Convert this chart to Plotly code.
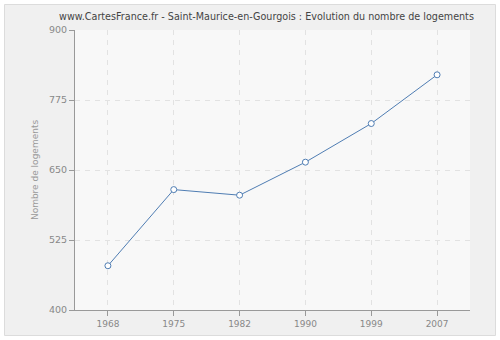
import plotly.graph_objects as go

years = ["1968", "1975", "1982", "1990", "1999", "2007"]
logements = [479, 615, 605, 664, 733, 820]
y_ticks = [400, 525, 650, 775, 900]

W, H = 500, 340
L, R, T, B = 75, 30, 30, 30
pw, ph = W - L - R, H - T - B

def px_x(x):
    return (x - L) / pw

def px_y(y):
    return (H - B - y) / ph

fig = go.Figure()
fig.add_trace(go.Scatter(
    x=years, y=logements, mode="lines+markers",
    line=dict(color="#4f7db3", width=1),
    marker=dict(symbol="circle", size=6, color="white",
                line=dict(color="#4f7db3", width=1)),
    hoverinfo="skip", showlegend=False,
))

# outer frame
fig.add_shape(type="rect", xref="paper", yref="paper",
              x0=px_x(4.5), x1=px_x(495.5), y0=px_y(335.5), y1=px_y(4.5),
              line=dict(color="#dcdcdc", width=1), fillcolor="#f0f0f0", layer="below")
# plot area background
fig.add_shape(type="rect", xref="paper", yref="paper", x0=0, x1=1, y0=0, y1=1,
              line=dict(width=0), fillcolor="#f8f8f8", layer="below")

fig.update_layout(
    width=W, height=H,
    margin=dict(l=L, r=R, t=T, b=B),
    paper_bgcolor="white",
    plot_bgcolor="#f8f8f8",
    font=dict(family="DejaVu Sans", color="#888888", size=9),
    title=dict(text="www.CartesFrance.fr - Saint-Maurice-en-Gourgois : Evolution du nombre de logements",
               xref="paper", x=px_x(266.5), xanchor="center", y=1 - 17 / H, yanchor="middle",
               font=dict(size=9.6, color="#444444")),
    xaxis=dict(type="category", range=[-0.5, 5.5], showline=True, linecolor="#999999",
               linewidth=1, ticks="outside", ticklen=5, tickcolor="#999999",
               showgrid=True, gridcolor="#e2e2e2", griddash="5px,5px", zeroline=False,
               tickfont=dict(size=9, color="#888888")),
    yaxis=dict(range=[400, 900], tickvals=y_ticks, showline=True, linecolor="#999999",
               linewidth=1, ticks="outside", ticklen=5, tickcolor="#999999",
               showgrid=True, gridcolor="#e2e2e2", griddash="5px,5px", zeroline=False,
               title=dict(text="Nombre de logements", font=dict(size=9, color="#999999"), standoff=8),
               tickfont=dict(size=9.5, color="#888888")),
)

fig.write_html("out.html")
